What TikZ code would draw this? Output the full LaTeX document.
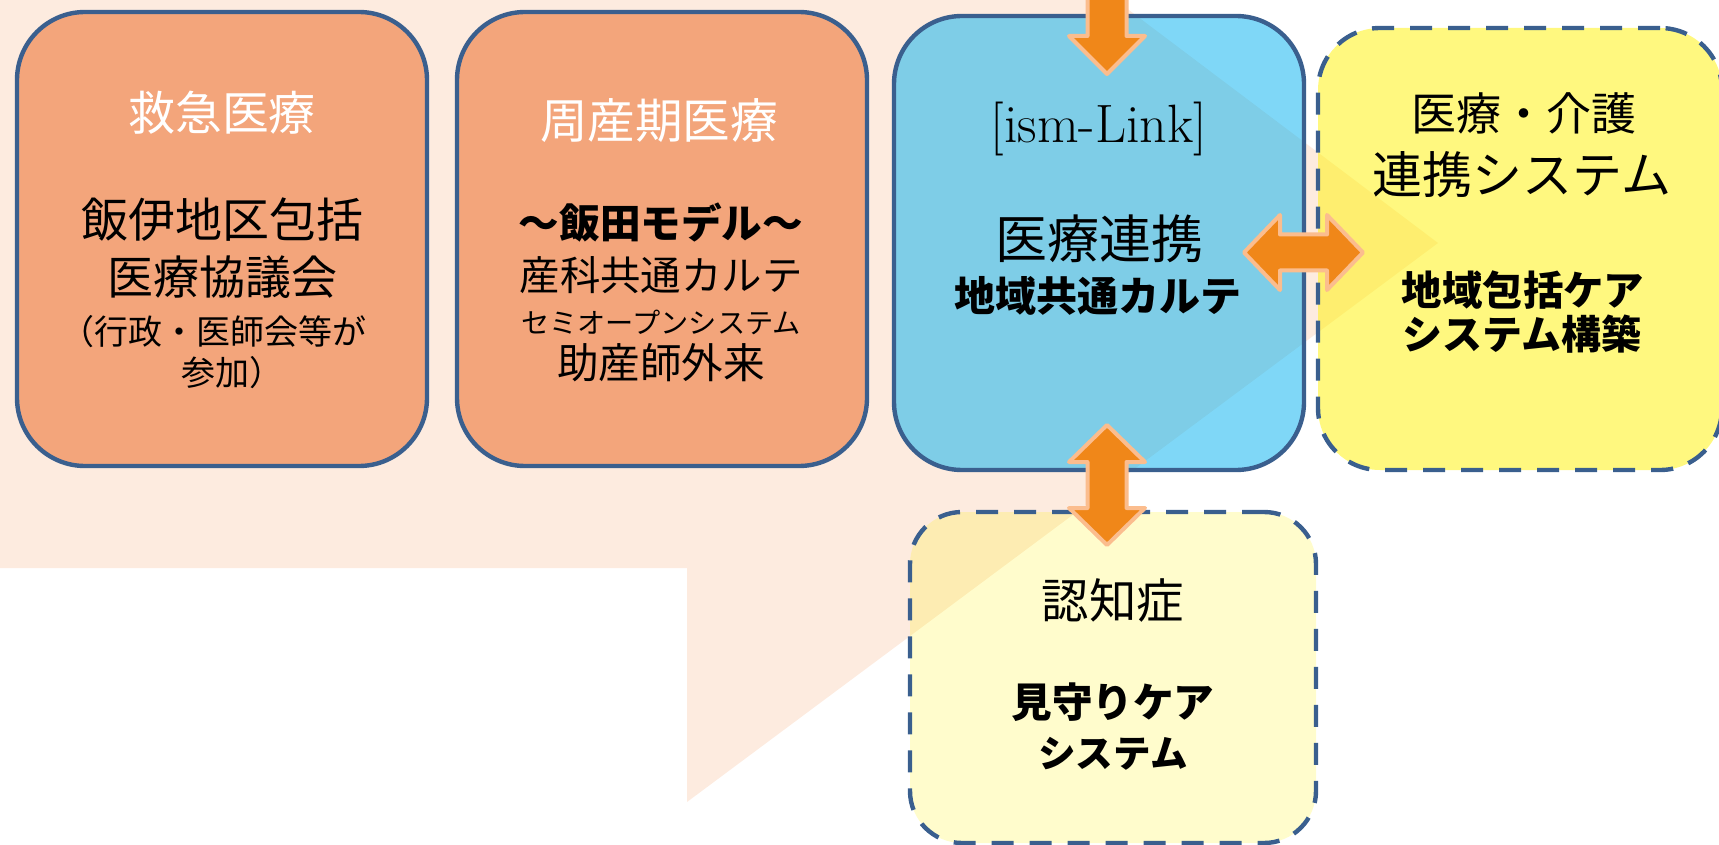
\documentclass[tikz,border=0pt]{standalone}
\usepackage{fontspec}
\newfontfamily\jp{Noto Sans CJK JP}
\definecolor{peach}{HTML}{FDEBDF}
\definecolor{bordblue}{HTML}{3A5F8E}
\definecolor{boxorange}{HTML}{F3A57B}
\definecolor{skyblue}{HTML}{00B0F0}
\definecolor{arrowfill}{HTML}{F08719}
\definecolor{arrowline}{HTML}{FBBD8E}
\begin{document}
\begin{tikzpicture}[x=0.5pt,y=-0.5pt,
  box/.style={draw=bordblue, line width=2.2pt, inner sep=0pt},
  dashbox/.style={box, dash pattern=on 11pt off 8pt},
  blockarrow/.style={fill=arrowfill, draw=arrowline, line width=2pt, line join=round},
  fs/.style={inner sep=0pt, font={\jp\fontsize{#1}{#1}\selectfont}},
  fsb/.style={inner sep=0pt, font={\jp\bfseries\fontsize{#1}{#1}\selectfont}},
]
\useasboundingbox (0,0) rectangle (1719,845);
\clip (0,0) rectangle (1719,845);

% callout background
\fill[peach] (-5,-5) -- (1109,-5) -- (1438,243) -- (687,802) -- (687,568) -- (-5,568) -- cycle;

% boxes
\node[box, fill=boxorange, minimum width=205pt, minimum height=227pt, rounded corners=34pt] (kyu) at (222,239) {};
\node[box, fill=boxorange, minimum width=205pt, minimum height=227pt, rounded corners=34pt] (shu) at (662,239) {};
\node[box, fill=skyblue, fill opacity=0.5, minimum width=205pt, minimum height=227pt, rounded corners=34pt] (ism) at (1099,243) {};
\node[dashbox, fill=yellow, fill opacity=0.5, minimum width=202pt, minimum height=221pt, rounded corners=31pt] (kaigo) at (1520,249) {};
\node[dashbox, fill=yellow, fill opacity=0.2, minimum width=203pt, minimum height=165.5pt, rounded corners=26pt] (nin) at (1113,677.5) {};

% block arrows
\coordinate (dtip) at (1107,74);
\draw[blockarrow] (dtip) -- ++(38,-38) -- ++(-18.5,0) -- ++(0,-60) -- ++(-39,0) -- ++(0,60) -- ++(-18.5,0) -- cycle;
\coordinate (vtip) at (1107,425);
\draw[blockarrow] (vtip) -- ++(38,37) -- ++(-18.5,0) -- ++(0,46) -- ++(18.5,0) -- ++(-38,37) -- ++(-38,-37) -- ++(18.5,0) -- ++(0,-46) -- ++(-18.5,0) -- cycle;
\coordinate (htip) at (1244,252.5);
\draw[blockarrow] (htip) -- ++(36,-37.5) -- ++(0,19.5) -- ++(47,0) -- ++(0,-19.5) -- ++(36,37.5) -- ++(-36,37.5) -- ++(0,-19.5) -- ++(-47,0) -- ++(0,19.5) -- cycle;

% texts box 1
\node[fs=23.4, text=white] (k1) at (222,113) {救急医療};
\node[fs=23.5] (k2) at (222,220) {飯伊地区包括};
\node[fs=23] (k3) at (222,277) {医療協議会};
\node[fs=17] (k4) at (214,332) {（行政・医師会等が};
\node[fs=17] (k5) at (232,373) {参加）};

% texts box 2
\node[fs=23.8, text=white] (s1) at (659,121) {周産期医療};
\node[fsb=20.3] (s2) at (661,223) {～飯田モデル～};
\node[fs=20.2] (s3) at (661,275) {産科共通カルテ};
\node[fs=14.1] (s4) at (661,322) {セミオープンシステム};
\node[fs=20.8] (s5) at (661,363) {助産師外来};

% texts box 3
\node[inner sep=0pt, font=\fontsize{27}{28}\selectfont] (i1) at (1099,129) {[ism-Link]};
\node[fs=26] (i2) at (1099,239) {医療連携};
\node[fsb=20.5] (i3) at (1098,296) {地域共通カルテ};

% texts box 4
\node[fs=22.5] (c1) at (1524,113) {医療・介護};
\node[fs=25] (c2) at (1522,175) {連携システム};
\node[fsb=20.2] (c3) at (1523,290) {地域包括ケア};
\node[fsb=20] (c4) at (1522,334) {システム構築};

% texts box 5
\node[fs=23.7] (n1) at (1113,601) {認知症};
\node[fsb=20.3] (n2) at (1113,702) {見守りケア};
\node[fsb=18.8] (n3) at (1113,754) {システム};
\end{tikzpicture}
\end{document}
